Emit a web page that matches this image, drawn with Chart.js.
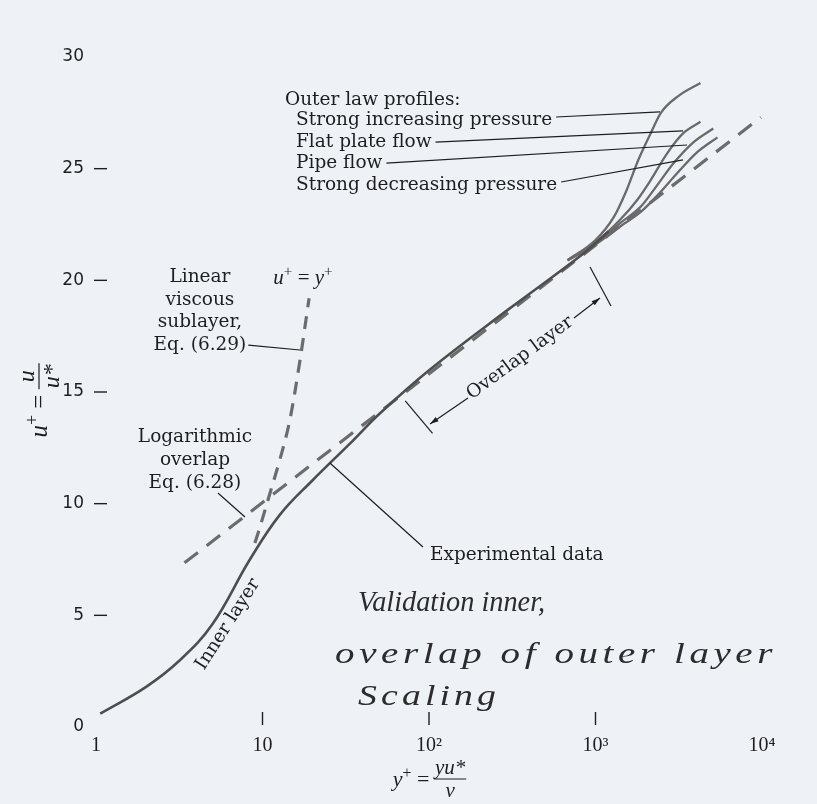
<!DOCTYPE html>
<html>
<head>
<meta charset="utf-8">
<script src="https://cdn.jsdelivr.net/npm/chart.js@4.4.1/dist/chart.umd.min.js"></script>
<style>
  html, body { margin: 0; padding: 0; background: #eef2f7; }
  #grafico { display: block; }
</style>
</head>
<body>
<canvas id="grafico" width="817" height="804"></canvas>
<script>
// eixos
var xTicks = [1, 10, 100, 1000, 10000];
var xTickLabels = ['1', '10', '10²', '10³', '10⁴'];

// dados experimentais (y+, u+)
var expYp = [1.06, 2.0, 3.2, 5.0, 8.4, 12.7, 20, 33.6, 50.8, 101, 300, 847, 1200];
var expUp = [0.6, 1.8, 3.0, 4.6, 7.5, 9.5, 11.05, 12.7, 14.05, 16.0, 18.7, 21.2, 22.2];

// perfis da lei externa
var incYp = [680, 1000, 1290, 1510, 1810, 2150, 2470, 3140, 4270];
var incUp = [20.9, 21.8, 22.84, 23.9, 25.4, 26.6, 27.5, 28.25, 28.84];
var flatYp = [680, 1000, 1400, 1780, 2150, 2700, 3380, 4270];
var flatUp = [20.9, 21.7, 22.7, 23.6, 24.5, 25.7, 26.6, 27.1];
var pipeYp = [680, 1000, 1400, 1870, 2240, 2950, 3900, 5100];
var pipeUp = [20.9, 21.65, 22.55, 23.3, 24.05, 25.25, 26.2, 26.8];
var decYp = [680, 1000, 1400, 1870, 2350, 3140, 4100, 5400];
var decUp = [20.9, 21.6, 22.4, 23.06, 23.8, 24.85, 25.75, 26.4];

// leis teoricas (tracejadas)
var logYp = [3.4, 9850];
var logUp = [7.35, 27.3];
var linYp = [9.0, 9.66, 11.1, 12.7, 14.6, 16.8, 19.05];
var linUp = [8.24, 8.96, 10.48, 11.96, 13.75, 16.43, 19.2];

function Pares(xs, ys) {
    return xs.map(function (v, i) { return { x: v, y: ys[i] }; });
}

var serif = '"DejaVu Serif", serif';
var tSerif = '"Liberation Serif", serif';
var tinta = '#1e1e1e';

var anotacoes = {
    id: 'anotacoes',
    afterDraw: function (chart) {
        var ctx = chart.ctx, sx = chart.scales.x, sy = chart.scales.y, area = chart.chartArea;
        function P(a, b) { return [sx.getPixelForValue(a), sy.getPixelForValue(b)]; }
        function Linha(a, b) {
            ctx.beginPath(); ctx.moveTo(a[0], a[1]); ctx.lineTo(b[0], b[1]); ctx.stroke();
        }
        function Seta(a, b) {
            Linha(a, b);
            var ang = Math.atan2(b[1] - a[1], b[0] - a[0]);
            ctx.beginPath();
            ctx.moveTo(b[0], b[1]);
            ctx.lineTo(b[0] - 9 * Math.cos(ang - 0.3), b[1] - 9 * Math.sin(ang - 0.3));
            ctx.lineTo(b[0] - 9 * Math.cos(ang + 0.3), b[1] - 9 * Math.sin(ang + 0.3));
            ctx.closePath(); ctx.fill();
        }
        function Texto(s, a, b, align, font) {
            var p = P(a, b);
            ctx.font = font || '18.5px ' + serif;
            ctx.textAlign = align || 'left';
            ctx.textBaseline = 'middle';
            ctx.fillText(s, p[0], p[1]);
            return [p[0], p[1], ctx.measureText(s).width];
        }
        // texto com italico e expoentes: partes [texto, italico, expoente]
        function Fonte(p, tam) {
            return (p[1] ? 'italic ' : '') + (p[2] ? tam * 0.72 : tam) + 'px ' + tSerif;
        }
        function Largura(partes, tam) {
            var w = 0;
            partes.forEach(function (p) { ctx.font = Fonte(p, tam); w += ctx.measureText(p[0]).width; });
            return w;
        }
        function Rico(partes, x, y, tam, align) {
            var x0 = align == 'center' ? x - Largura(partes, tam) / 2 : x;
            ctx.textAlign = 'left';
            ctx.textBaseline = 'alphabetic';
            partes.forEach(function (p) {
                ctx.font = Fonte(p, tam);
                ctx.fillText(p[0], x0, p[2] ? y - tam * 0.38 : y);
                x0 += ctx.measureText(p[0]).width;
            });
        }

        ctx.save();
        ctx.fillStyle = tinta;
        ctx.strokeStyle = tinta;

        // marcas dos eixos
        ctx.lineWidth = 1.4;
        [5, 10, 15, 20, 25].forEach(function (v) {
            var py = sy.getPixelForValue(v);
            Linha([area.left - 2, py], [area.left + 11, py]);
        });
        [10, 100, 1000].forEach(function (v) {
            var px = sx.getPixelForValue(v);
            Linha([px, area.bottom - 15], [px, area.bottom - 2]);
        });

        ctx.lineWidth = 1.2;

        // perfis externos
        Texto('Outer law profiles:', 13.65, 28.07);
        [['Strong increasing pressure', 27.18, 2440, 27.54],
         ['Flat plate flow', 26.19, 3355, 26.69],
         ['Pipe flow', 25.25, 3548, 26.06],
         ['Strong decreasing pressure', 24.27, 3355, 25.39]].forEach(function (l, i) {
            var t = Texto(l[0], 15.9, l[1]);
            var y0 = t[1] - (i == 0 || i == 3 ? 3 : 0);
            Linha([t[0] + t[2] + 4, y0], P(l[2], l[3]));
        });

        // subcamada viscosa
        var t;
        ['Linear', 'viscous', 'sublayer,', 'Eq. (6.29)'].forEach(function (s, i) {
            t = Texto(s, 4.21, [20.15, 19.12, 18.13, 17.10][i], 'center');
        });
        Linha([t[0] + t[2] / 2 + 2, t[1]], P(16.8, 16.88));
        var q = P(17.5, 19.85);
        Rico([['u', 1, 0], ['+', 0, 1], [' = ', 0, 0], ['y', 1, 0], ['+', 0, 1]], q[0], q[1], 21, 'center');

        // overlap logaritmico
        ['Logarithmic', 'overlap', 'Eq. (6.28)'].forEach(function (s, i) {
            Texto(s, 3.93, [12.99, 11.96, 10.93][i], 'center');
        });
        Linha(P(5.4, 10.48), P(7.85, 9.40));

        // dados experimentais
        Texto('Experimental data', 101.4, 7.70);
        Linha(P(25.4, 11.82), P(92, 8.06));

        // camada de overlap
        Linha(P(72, 14.6), P(105, 13.15));
        Linha(P(927, 20.6), P(1239, 18.85));
        Seta(P(171.5, 14.73), P(101.4, 13.57));
        Seta(P(743, 18.31), P(1064, 19.21));
        var c = P(352, 16.52);
        ctx.save();
        ctx.translate(c[0], c[1]); ctx.rotate(-36.5 * Math.PI / 180);
        ctx.font = '18.5px ' + serif; ctx.textAlign = 'center'; ctx.textBaseline = 'middle';
        ctx.fillText('Overlap layer', 0, 0);
        ctx.restore();

        c = P(6.2, 4.6);
        ctx.save();
        ctx.translate(c[0], c[1]); ctx.rotate(-57.5 * Math.PI / 180);
        ctx.font = '18.5px ' + serif; ctx.textAlign = 'center'; ctx.textBaseline = 'middle';
        ctx.fillText('Inner layer', 0, 0);
        ctx.restore();

        // anotacao manuscrita
        ctx.fillStyle = '#2c2c2c';
        [['Validation inner,', 37.5, 5.55, 498],
         ['overlap of outer layer', 27.3, 3.22, 12300],
         ['Scaling', 37.5, 1.34, 267]].forEach(function (l) {
            var a = P(l[1], l[2]), b = P(l[3], l[2]);
            ctx.save();
            ctx.font = 'italic 29px ' + tSerif;
            ctx.textAlign = 'left'; ctx.textBaseline = 'middle';
            var w = ctx.measureText(l[0]).width;
            if ('letterSpacing' in ctx) {
                ctx.letterSpacing = (Math.max(0, b[0] - a[0] - w) * 0.4 / l[0].length).toFixed(2) + 'px';
                w = ctx.measureText(l[0]).width;
            }
            ctx.translate(a[0], a[1]);
            ctx.scale((b[0] - a[0]) / w, 1);
            ctx.fillText(l[0], 0, 0);
            ctx.restore();
        });
        ctx.fillStyle = tinta;

        // titulo eixo x: y+ = yu*/v
        var eqX = [['y', 1, 0], ['+', 0, 1], [' = ', 0, 0]];
        var cx = (area.left + area.right) / 2, by = area.bottom + 52;
        var w1 = Largura(eqX, 22);
        ctx.font = 'italic 21px ' + tSerif;
        var wf = ctx.measureText('yu*').width;
        var x0 = cx - (w1 + wf) / 2;
        Rico(eqX, x0, by + 7, 22);
        ctx.font = 'italic 21px ' + tSerif;
        ctx.textAlign = 'center';
        ctx.textBaseline = 'alphabetic';
        ctx.fillText('yu*', x0 + w1 + wf / 2, by - 5);
        ctx.textBaseline = 'top';
        ctx.fillText('ν', x0 + w1 + wf / 2, by + 2);
        ctx.lineWidth = 1.2;
        Linha([x0 + w1 - 1, by], [x0 + w1 + wf + 1, by]);

        // titulo eixo y: u+ = u/u*
        var eqY = [['u', 1, 0], ['+', 0, 1], [' = ', 0, 0]];
        var cy = sy.getPixelForValue(14.6);
        ctx.save();
        ctx.translate(area.left - 57, cy);
        ctx.rotate(-Math.PI / 2);
        w1 = Largura(eqY, 25);
        ctx.font = 'italic 24px ' + tSerif;
        wf = ctx.measureText('u*').width;
        x0 = -(w1 + wf) / 2;
        Rico(eqY, x0, 8, 25);
        ctx.font = 'italic 24px ' + tSerif;
        ctx.textAlign = 'center';
        ctx.textBaseline = 'alphabetic';
        ctx.fillText('u', x0 + w1 + wf / 2, -5);
        ctx.textBaseline = 'top';
        ctx.fillText('u*', x0 + w1 + wf / 2, 2);
        Linha([x0 + w1 - 1, 0], [x0 + w1 + wf + 1, 0]);
        ctx.restore();

        ctx.restore();
    }
};

var ctx = document.getElementById('grafico').getContext('2d');

var grafico = new Chart(ctx, {
    type: 'line',
    data: {
        datasets: [
            { label: 'Experimental data', data: Pares(expYp, expUp), borderColor: '#4e4e4e', borderWidth: 2.6, tension: 0.4 },
            { label: 'Strong increasing pressure', data: Pares(incYp, incUp), borderColor: '#6a6a6a', borderWidth: 2.3, cubicInterpolationMode: 'monotone' },
            { label: 'Flat plate flow', data: Pares(flatYp, flatUp), borderColor: '#6a6a6a', borderWidth: 2.3, cubicInterpolationMode: 'monotone' },
            { label: 'Pipe flow', data: Pares(pipeYp, pipeUp), borderColor: '#6a6a6a', borderWidth: 2.3, cubicInterpolationMode: 'monotone' },
            { label: 'Strong decreasing pressure', data: Pares(decYp, decUp), borderColor: '#6a6a6a', borderWidth: 2.3, cubicInterpolationMode: 'monotone' },
            { label: 'Logarithmic overlap', data: Pares(logYp, logUp), borderColor: '#6c6c6c', borderWidth: 3.2, borderDash: [17, 11] },
            { label: 'Linear viscous sublayer', data: Pares(linYp, linUp), borderColor: '#6c6c6c', borderWidth: 3.2, borderDash: [13, 9], cubicInterpolationMode: 'monotone' }
        ]
    },
    options: {
        responsive: false,
        animation: false,
        layout: { padding: { left: 0, right: 55, top: 57, bottom: 0 } },
        elements: { point: { radius: 0 }, line: { fill: false } },
        plugins: { legend: { display: false }, tooltip: { enabled: false } },
        scales: {
            x: {
                type: 'logarithmic',
                min: 1,
                max: 10000,
                afterBuildTicks: function (s) { s.ticks = xTicks.map(function (v) { return { value: v }; }); },
                afterFit: function (s) { s.height = 77; },
                grid: { display: false, drawTicks: false },
                border: { display: false },
                ticks: {
                    autoSkip: false, maxRotation: 0, padding: 7, color: tinta,
                    font: { family: tSerif, size: 20 },
                    callback: function (v) { var i = xTicks.indexOf(v); return i >= 0 ? xTickLabels[i] : ''; }
                }
            },
            y: {
                min: 0,
                max: 30,
                afterFit: function (s) { s.width = 96; },
                grid: { display: false, drawTicks: false },
                border: { display: false },
                ticks: { stepSize: 5, padding: 12, color: tinta, font: { family: '"DejaVu Sans", sans-serif', size: 17 } }
            }
        }
    },
    plugins: [anotacoes]
});
</script>
</body>
</html>
